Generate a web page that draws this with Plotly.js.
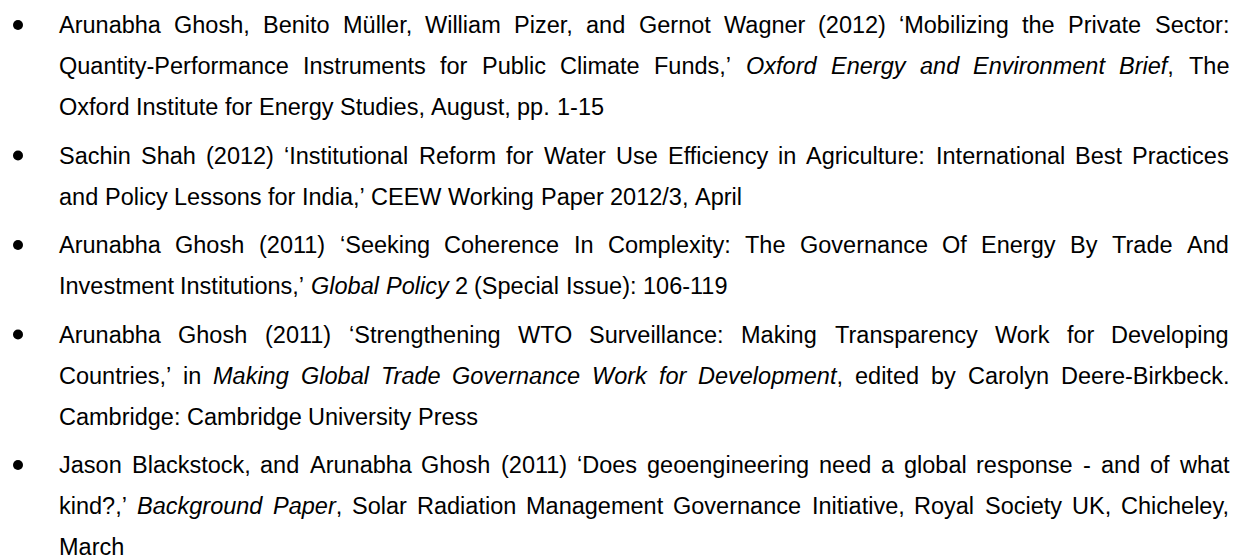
<!DOCTYPE html>
<html>
<head>
<meta charset="utf-8">
<script src="https://cdn.plot.ly/plotly-3.0.1.min.js"></script>
<style>
  html, body { margin: 0; padding: 0; background: #ffffff; }
  #chart { width: 1234px; height: 560px; }
</style>
</head>
<body>
<div id="chart"></div>
<script>
// ---- Data: reference entries, one array of (wrapped) lines per entry ----
const ref1Lines = [
  "Arunabha Ghosh, Benito Müller, William Pizer, and Gernot Wagner (2012) ‘Mobilizing the Private Sector:",
  "Quantity-Performance Instruments for Public Climate Funds,’ <i>Oxford Energy and Environment Brief</i>, The",
  "Oxford Institute for Energy Studies, August, pp. 1-15"
];
const ref2Lines = [
  "Sachin Shah (2012) ‘Institutional Reform for Water Use Efficiency in Agriculture: International Best Practices",
  "and Policy Lessons for India,’ CEEW Working Paper 2012/3, April"
];
const ref3Lines = [
  "Arunabha Ghosh (2011) ‘Seeking Coherence In Complexity: The Governance Of Energy By Trade And",
  "Investment Institutions,’ <i>Global Policy</i> 2 (Special Issue): 106-119"
];
const ref4Lines = [
  "Arunabha Ghosh (2011) ‘Strengthening WTO Surveillance: Making Transparency Work for Developing",
  "Countries,’ in <i>Making Global Trade Governance Work for Development</i>, edited by Carolyn Deere-Birkbeck.",
  "Cambridge: Cambridge University Press"
];
const ref5Lines = [
  "Jason Blackstock, and Arunabha Ghosh (2011) ‘Does geoengineering need a global response - and of what",
  "kind?,’ <i>Background Paper</i>, Solar Radiation Management Governance Initiative, Royal Society UK, Chicheley,",
  "March"
];
const references = [ref1Lines, ref2Lines, ref3Lines, ref4Lines, ref5Lines];

// ---- Layout constants ----
const W = 1234, H = 560;
const FONT_FAMILY = 'Liberation Sans, Arial, Helvetica, sans-serif';
const FONT_SIZE = 23.5;
const TEXT_LEFT = 59, TEXT_RIGHT = 1229, BULLET_X = 18;
const FIRST_Y = 25, LINE_STEP = 41, PARA_STEP = 48.5;

const canvas = document.createElement('canvas');
const ctx = canvas.getContext('2d');
function measure(t, italic) {
  ctx.font = (italic ? 'italic ' : '') + FONT_SIZE + 'px ' + FONT_FAMILY;
  return ctx.measureText(t).width;
}

function parseLine(line) {
  const tokens = line.split(' ');
  let italic = false;
  const words = [];
  tokens.forEach(tok => {
    const segs = [];
    tok.split(/(<\/?i>)/).forEach(p => {
      if (p === '<i>') italic = true;
      else if (p === '</i>') italic = false;
      else if (p) segs.push({ t: p, i: italic });
    });
    if (segs.length) words.push(segs);
  });
  return words;
}

const annotations = [];
const bulletX = [], bulletY = [];
let y = FIRST_Y;
references.forEach((lines, r) => {
  if (r > 0) y += PARA_STEP;
  bulletX.push(BULLET_X);
  bulletY.push(y);
  lines.forEach((line, li) => {
    if (li > 0) y += LINE_STEP;
    const words = parseLine(line);
    const widths = words.map(segs => segs.reduce((s, g) => s + measure(g.t, g.i), 0));
    const total = widths.reduce((a, b) => a + b, 0);
    const isLast = li === lines.length - 1;
    const gap = (!isLast && words.length > 1)
      ? (TEXT_RIGHT - TEXT_LEFT - total) / (words.length - 1)
      : measure(' ', false);
    let x = TEXT_LEFT;
    words.forEach((segs, wi) => {
      annotations.push({
        x: x, y: y, xref: 'x', yref: 'y',
        xanchor: 'left', yanchor: 'middle',
        text: segs.map(g => g.i ? '<i>' + g.t + '</i>' : g.t).join(''),
        showarrow: false, borderpad: 0, borderwidth: 0,
        font: { family: FONT_FAMILY, size: FONT_SIZE, color: '#000000' }
      });
      x += widths[wi] + gap;
    });
  });
});

const traces = [{
  type: 'scatter', mode: 'markers',
  x: bulletX, y: bulletY,
  marker: { symbol: 'circle', size: 10, color: '#000000' },
  hoverinfo: 'skip', showlegend: false
}];

const layout = {
  width: W, height: H,
  margin: { l: 0, r: 0, t: 0, b: 0, pad: 0 },
  paper_bgcolor: '#ffffff', plot_bgcolor: '#ffffff',
  xaxis: { range: [0, W], visible: false, fixedrange: true },
  yaxis: { range: [H, 0], visible: false, fixedrange: true },
  showlegend: false,
  annotations: annotations
};

Plotly.newPlot('chart', traces, layout, { staticPlot: true, displayModeBar: false });
</script>
</body>
</html>
